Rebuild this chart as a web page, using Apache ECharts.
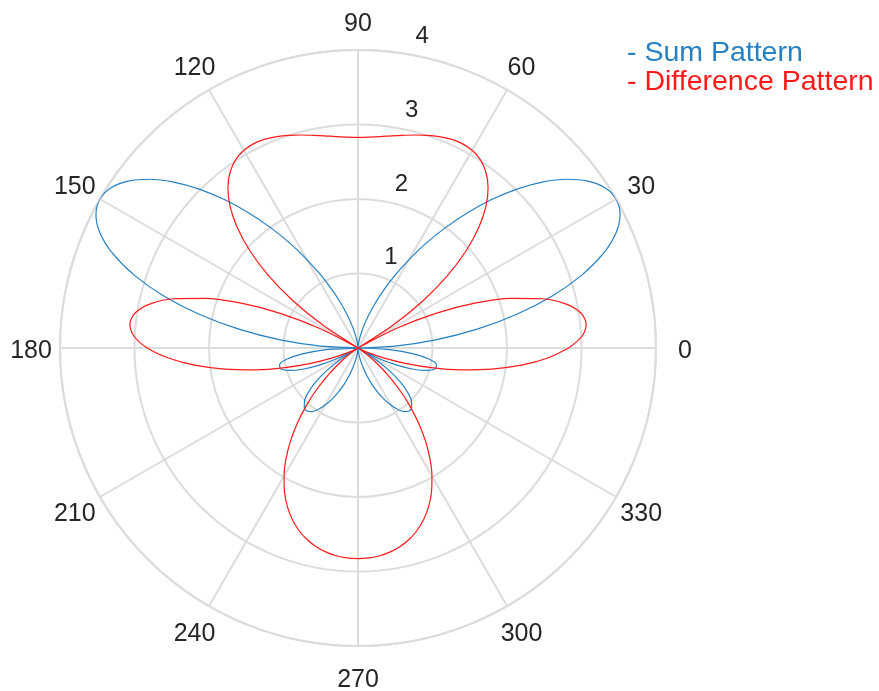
<!DOCTYPE html>
<html>
<head>
<meta charset="utf-8">
<script src="https://cdn.jsdelivr.net/npm/echarts@6/dist/echarts.min.js"></script>
<style>
html,body{margin:0;padding:0;background:#ffffff;}
#chart{width:879px;height:691px;}
</style>
</head>
<body>
<div id="chart"></div>
<script>
// ---------- data ----------
const angleDeg = [0,3,6,9,12,15,18,21,24,27,30,33,36,39,42,45,48,51,54,57,60,63,66,69,72,75,78,81,84,87,90,
  93,96,99,102,105,108,111,114,117,120,123,126,129,132,135,138,141,144,147,150,153,156,159,162,165,168,171,174,177,180,
  183,186,189,192,195,198,201,204,207,210,213,216,219,222,225,228,231,234,237,240,243,246,249,252,255,258,261,264,267,270,
  273,276,279,282,285,288,291,294,297,300,303,306,309,312,315,318,321,324,327,330,333,336,339,342,345,348,351,354,357,360];

const sumPattern = [
  0,0.499,1.049,1.619,2.179,2.700,3.154,3.522,3.789,3.948,4.000,3.951,3.812,3.599,3.328,3.016,2.681,2.337,1.997,1.674,1.371,1.097,0.854,0.644,0.465,0.318,0.201,0.112,0.049,0.012,0,
  0.012,0.049,0.112,0.201,0.318,0.465,0.644,0.854,1.097,1.371,1.674,1.997,2.337,2.681,3.016,3.328,3.599,3.812,3.951,4.000,3.948,3.789,3.522,3.154,2.700,2.179,1.619,1.049,0.499,0,
  0.423,0.751,0.970,1.076,1.075,0.976,0.797,0.559,0.286,0,0.278,0.529,0.741,0.905,1.017,1.077,1.087,1.054,0.985,0.889,0.774,0.649,0.522,0.399,0.286,0.187,0.107,0.048,0.012,0,
  0.012,0.048,0.107,0.187,0.286,0.399,0.522,0.649,0.774,0.889,0.985,1.054,1.087,1.077,1.017,0.905,0.741,0.529,0.278,0,0.286,0.559,0.797,0.976,1.075,1.076,0.970,0.751,0.423,0
];

const differencePattern = [
  2.828,3.010,3.079,3.025,2.848,2.554,2.158,1.679,1.143,0.575,0,0.558,1.079,1.549,1.956,2.296,2.568,2.774,2.920,3.014,3.064,3.079,3.068,3.040,3.002,2.960,2.919,2.884,2.853,2.835,2.828,
  2.835,2.853,2.884,2.919,2.960,3.002,3.040,3.068,3.079,3.064,3.014,2.920,2.774,2.568,2.296,1.956,1.549,1.079,0.558,0,0.575,1.143,1.679,2.158,2.554,2.848,3.025,3.079,3.010,2.828,
  2.550,2.204,1.812,1.407,1.017,0.667,0.380,0.169,0.042,0,0.039,0.150,0.319,0.532,0.774,1.031,1.290,1.540,1.774,1.985,2.172,2.331,2.463,2.572,2.658,2.724,2.771,2.804,2.822,2.828,
  2.822,2.804,2.771,2.724,2.658,2.572,2.463,2.331,2.172,1.985,1.774,1.540,1.290,1.031,0.774,0.532,0.319,0.150,0.039,0,0.042,0.169,0.380,0.667,1.017,1.407,1.812,2.204,2.550,2.828
];

const angleTicks = [0,30,60,90,120,150,180,210,240,270,300,330];
const radiusTicks = [0,1,2,3,4];
const seriesNames = ['Sum Pattern','Difference Pattern'];

// ---------- styling ----------
const BLUE = '#2680c4';
const RED = '#ff1a1a';
const GRID = '#dcdcdc';
const TXT = '#262626';
const FONT = '"Liberation Sans", Arial, Helvetica, sans-serif';
const CENTER = [358, 348];
const RADIUS = 298;

// angle labels centred on a circle just outside the plot
const LABEL_MARGIN = -20;
const LABEL_OFFSET = 29 - LABEL_MARGIN;
const LABEL_DY = 3;
const angleRich = {};
angleTicks.forEach(function (a) {
  const sn = Math.sin(a * Math.PI / 180);
  const c = Math.abs(Math.cos(a * Math.PI / 180));
  const s = Math.abs(sn);
  const W = c < 0.32 ? 80 : 2 * LABEL_OFFSET * c;
  let H, pad = [0, 0, 0, 0];
  if (s < 0.32) {
    H = 30; pad = [2 * LABEL_DY, 0, 0, 0];
  } else if (sn > 0) {
    H = 2 * LABEL_OFFSET * s - 2 * LABEL_DY;
  } else {
    H = 2 * LABEL_OFFSET * s + 2 * LABEL_DY + (a === 270 ? 4 : 0);
  }
  angleRich['t' + a] = {
    width: W, height: H, lineHeight: H, align: 'center', verticalAlign: 'middle',
    padding: pad, fontSize: 25, color: TXT, fontFamily: FONT
  };
});

const chart = echarts.init(document.getElementById('chart'), null, {renderer: 'canvas'});

const option = {
  animation: false,
  backgroundColor: '#ffffff',
  textStyle: {fontFamily: FONT},
  legend: {
    orient: 'vertical',
    left: 622,
    top: 39,
    padding: 0,
    itemGap: 0,
    icon: 'none',
    itemWidth: 0,
    itemHeight: 0,
    selectedMode: false,
    formatter: function (n) { return '- ' + n; },
    textStyle: {fontSize: 28.5, fontFamily: FONT},
    data: [
      {name: seriesNames[0], textStyle: {color: BLUE}},
      {name: seriesNames[1], textStyle: {color: RED}}
    ]
  },
  polar: [
    {center: CENTER, radius: RADIUS},
    {center: CENTER, radius: RADIUS}
  ],
  angleAxis: [
    {
      polarIndex: 0,
      type: 'value',
      min: angleTicks[0],
      max: 360,
      interval: angleTicks[1] - angleTicks[0],
      startAngle: 0,
      clockwise: false,
      axisLine: {show: true, lineStyle: {color: GRID, width: 2}},
      axisTick: {show: false},
      splitLine: {show: true, lineStyle: {color: GRID, width: 2}},
      axisLabel: {
        show: true,
        margin: LABEL_MARGIN,
        formatter: function (v) { return '{t' + v + '|' + v + '}'; },
        rich: angleRich
      }
    },
    {
      polarIndex: 1,
      type: 'value',
      min: 0,
      max: 360,
      startAngle: 82,
      clockwise: false,
      show: false
    }
  ],
  radiusAxis: [
    {
      polarIndex: 0,
      type: 'value',
      min: radiusTicks[0],
      max: radiusTicks[radiusTicks.length - 1],
      interval: radiusTicks[1] - radiusTicks[0],
      axisLine: {show: false},
      axisTick: {show: false},
      axisLabel: {show: false},
      splitLine: {show: true, lineStyle: {color: GRID, width: 2}}
    },
    {
      polarIndex: 1,
      type: 'value',
      min: radiusTicks[0],
      max: radiusTicks[radiusTicks.length - 1],
      interval: radiusTicks[1] - radiusTicks[0],
      axisLine: {show: false},
      axisTick: {show: false},
      splitLine: {show: false},
      axisLabel: {
        show: true,
        showMinLabel: false,
        margin: 0,
        align: 'left',
        verticalAlign: 'bottom',
        padding: [0, 0, 4.5, 16],
        fontSize: 24,
        color: TXT,
        fontFamily: FONT
      }
    }
  ],
  series: [
    {
      name: seriesNames[0],
      type: 'line',
      coordinateSystem: 'polar',
      polarIndex: 0,
      data: angleDeg.map(function (a, i) { return [sumPattern[i], a]; }),
      symbol: 'none',
      showSymbol: false,
      smooth: 0.3,
      lineStyle: {color: BLUE, width: 1.2},
      itemStyle: {color: BLUE},
      z: 3
    },
    {
      name: seriesNames[1],
      type: 'line',
      coordinateSystem: 'polar',
      polarIndex: 0,
      data: angleDeg.map(function (a, i) { return [differencePattern[i], a]; }),
      symbol: 'none',
      showSymbol: false,
      smooth: 0.3,
      lineStyle: {color: RED, width: 1.2},
      itemStyle: {color: RED},
      z: 4
    }
  ]
};

chart.setOption(option);
</script>
</body>
</html>
